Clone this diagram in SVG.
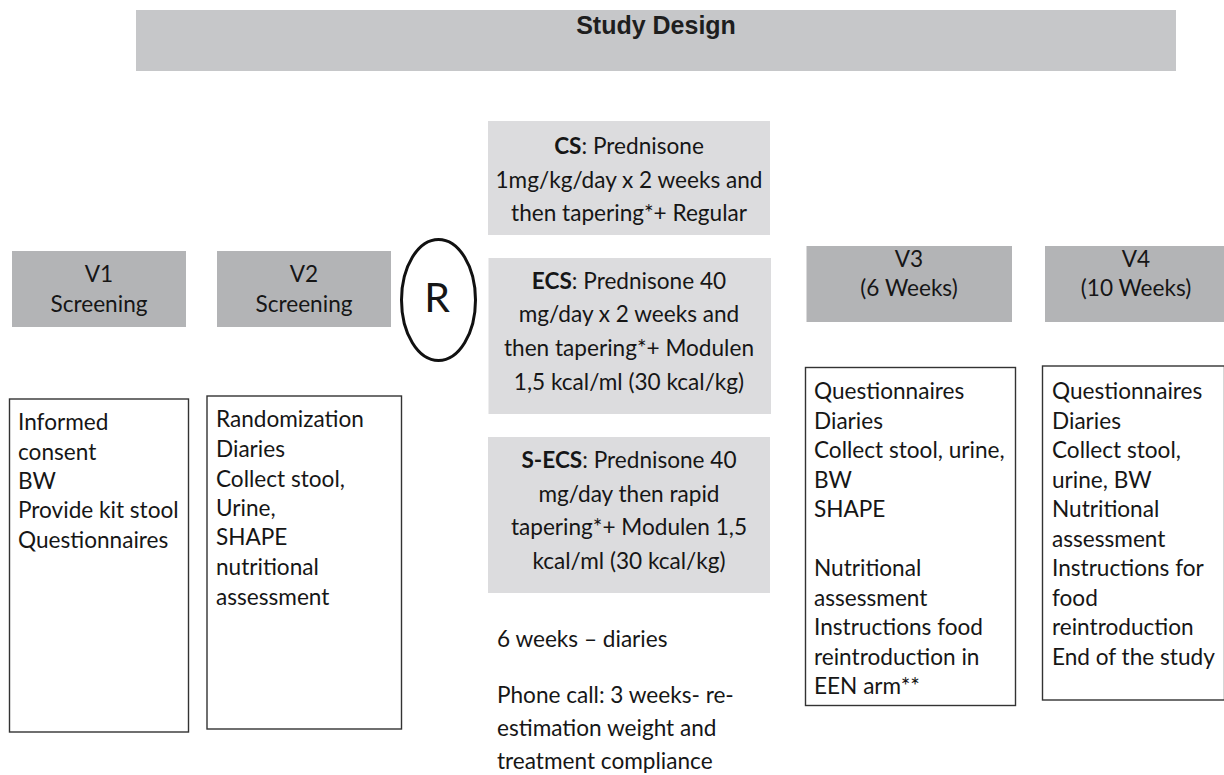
<svg xmlns="http://www.w3.org/2000/svg" width="1224" height="775" viewBox="0 0 1224 775">
<style>
  .t { font-family: Lato, "Open Sans", "Liberation Sans", sans-serif; font-size: 22.6px; fill: #161616; }
  .c { text-anchor: middle; }
  .b { font-weight: bold; }
  .hdr { fill: #b3b4b6; }
  .arm { fill: #dcdcde; }
  .box { fill: #ffffff; stroke: #333333; stroke-width: 1.4; }
  .title { font-family: "Liberation Sans", Arial, sans-serif; font-size: 25px; font-weight: bold; fill: #1e1e1e; text-anchor: middle; }
</style>
<rect width="1224" height="775" fill="#ffffff"/>

<g id="title">
  <rect x="136" y="10" width="1040" height="61" fill="#c6c7c9"/>
  <text class="title" x="656" y="34">Study Design</text>
</g>

<g id="v1">
  <rect class="hdr" x="12" y="251" width="174" height="76"/>
  <text class="t c" x="99" y="282">V1</text>
  <text class="t c" x="99" y="312">Screening</text>
</g>

<g id="v2">
  <rect class="hdr" x="217" y="251" width="174" height="76"/>
  <text class="t c" x="304" y="282">V2</text>
  <text class="t c" x="304" y="312">Screening</text>
</g>

<g id="randomization">
  <ellipse cx="438.5" cy="300" rx="37" ry="60.5" fill="none" stroke="#111111" stroke-width="3"/>
  <text class="t c" x="437" y="312" style="font-size:41px">R</text>
</g>

<g id="v1-details">
  <rect class="box" x="9.5" y="399" width="179" height="333"/>
  <text class="t" x="18" y="430">Informed</text>
  <text class="t" x="18" y="460">consent</text>
  <text class="t" x="18" y="489">BW</text>
  <text class="t" x="18" y="518">Provide kit stool</text>
  <text class="t" x="18" y="548">Questionnaires</text>
</g>

<g id="v2-details">
  <rect class="box" x="207" y="396" width="194.5" height="333"/>
  <text class="t" x="216" y="427">Randomization</text>
  <text class="t" x="216" y="457">Diaries</text>
  <text class="t" x="216" y="487">Collect stool,</text>
  <text class="t" x="216" y="516">Urine,</text>
  <text class="t" x="216" y="545">SHAPE</text>
  <text class="t" x="216" y="575">nutritional</text>
  <text class="t" x="216" y="605">assessment</text>
</g>

<g id="arm-cs">
  <rect class="arm" x="488" y="121" width="282" height="114"/>
  <text class="t c" x="629" y="154"><tspan class="b">CS</tspan>: Prednisone</text>
  <text class="t c" x="629" y="188">1mg/kg/day x 2 weeks and</text>
  <text class="t c" x="629" y="221">then tapering*+ Regular</text>
</g>

<g id="arm-ecs">
  <rect class="arm" x="488.5" y="258" width="282.5" height="156"/>
  <text class="t c" x="629" y="289"><tspan class="b">ECS</tspan>: Prednisone 40</text>
  <text class="t c" x="629" y="322">mg/day x 2 weeks and</text>
  <text class="t c" x="629" y="356">then tapering*+ Modulen</text>
  <text class="t c" x="629" y="390">1,5 kcal/ml (30 kcal/kg)</text>
</g>

<g id="arm-secs">
  <rect class="arm" x="488" y="437" width="282" height="156"/>
  <text class="t c" x="629" y="468"><tspan class="b">S-ECS</tspan>: Prednisone 40</text>
  <text class="t c" x="629" y="502">mg/day then rapid</text>
  <text class="t c" x="629" y="535">tapering*+ Modulen 1,5</text>
  <text class="t c" x="629" y="569">kcal/ml (30 kcal/kg)</text>
</g>

<g id="followup-notes">
  <text class="t" x="497" y="647">6 weeks – diaries</text>
  <text class="t" x="497" y="703">Phone call: 3 weeks- re-</text>
  <text class="t" x="497" y="736">estimation weight and</text>
  <text class="t" x="497" y="769">treatment compliance</text>
</g>

<g id="v3">
  <rect class="hdr" x="806.5" y="246" width="205.5" height="76"/>
  <text class="t c" x="909" y="267">V3</text>
  <text class="t c" x="909" y="296">(6 Weeks)</text>
</g>

<g id="v4">
  <rect class="hdr" x="1045" y="246" width="182" height="76"/>
  <text class="t c" x="1136" y="267">V4</text>
  <text class="t c" x="1136" y="296">(10 Weeks)</text>
</g>

<g id="v3-details">
  <rect class="box" x="805.5" y="367.5" width="210" height="338"/>
  <text class="t" x="814" y="399">Questionnaires</text>
  <text class="t" x="814" y="428.5">Diaries</text>
  <text class="t" x="814" y="458">Collect stool, urine,</text>
  <text class="t" x="814" y="487.5">BW</text>
  <text class="t" x="814" y="517">SHAPE</text>
  <text class="t" x="814" y="576">Nutritional</text>
  <text class="t" x="814" y="605.5">assessment</text>
  <text class="t" x="814" y="635">Instructions food</text>
  <text class="t" x="814" y="664.5">reintroduction in</text>
  <text class="t" x="814" y="694">EEN arm**</text>
</g>

<g id="v4-details">
  <rect class="box" x="1042.5" y="366" width="182" height="334"/>
  <text class="t" x="1052" y="399">Questionnaires</text>
  <text class="t" x="1052" y="428.5">Diaries</text>
  <text class="t" x="1052" y="458">Collect stool,</text>
  <text class="t" x="1052" y="487.5">urine, BW</text>
  <text class="t" x="1052" y="517">Nutritional</text>
  <text class="t" x="1052" y="546.5">assessment</text>
  <text class="t" x="1052" y="576">Instructions for</text>
  <text class="t" x="1052" y="605.5">food</text>
  <text class="t" x="1052" y="635">reintroduction</text>
  <text class="t" x="1052" y="664.5">End of the study</text>
</g>
</svg>
